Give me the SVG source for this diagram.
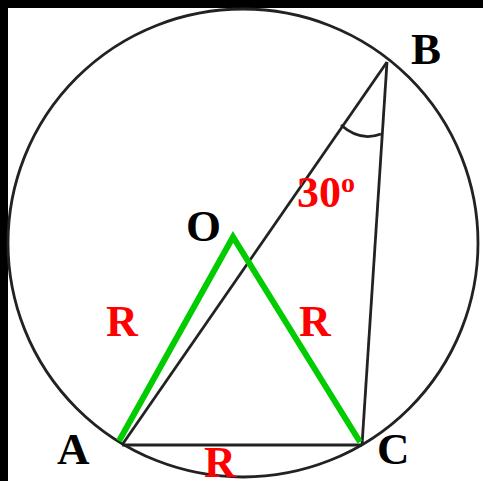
<svg xmlns="http://www.w3.org/2000/svg" width="483" height="481" viewBox="0 0 483 481">
<style>
.ln{stroke:#222;stroke-width:2.8;fill:none}
.gr{stroke:#00cc00;stroke-width:6;fill:none;stroke-linejoin:miter}
.lb{font-family:"Liberation Serif",serif;font-weight:bold;font-size:45px;fill:#000}
.rd{font-family:"Liberation Serif",serif;font-weight:bold;font-size:44px;fill:#ff0000}
</style>
<rect width="483" height="481" fill="#fff"/>
<rect x="0" y="0" width="483" height="8" fill="#000"/>
<rect x="0" y="0" width="8" height="481" fill="#000"/>
<g id="circle"><ellipse class="ln" cx="243" cy="243" rx="235" ry="234"/></g>
<g id="connectors">
<line class="ln" x1="122" y1="445" x2="387" y2="62"/>
<line class="ln" x1="387" y1="62" x2="362" y2="445"/>
<line class="ln" x1="122" y1="445" x2="362" y2="445"/>
<path class="ln" d="M341,125 Q360,142 381,134"/>
<polyline class="gr" points="119,441 233,237 360,442"/>
</g>
<g id="A"><text class="lb" x="57" y="464">A</text></g>
<g id="B"><text class="lb" x="411" y="64">B</text></g>
<g id="C"><text class="lb" x="377" y="464">C</text></g>
<g id="O"><text class="lb" x="186" y="241">O</text></g>
<g id="labels">
<text class="rd" x="297" y="207">30<tspan font-size="28" dy="-15">o</tspan></text>
<text class="rd" x="106" y="336">R</text>
<text class="rd" x="299" y="336">R</text>
<text class="rd" x="204" y="477">R</text>
</g>
</svg>
